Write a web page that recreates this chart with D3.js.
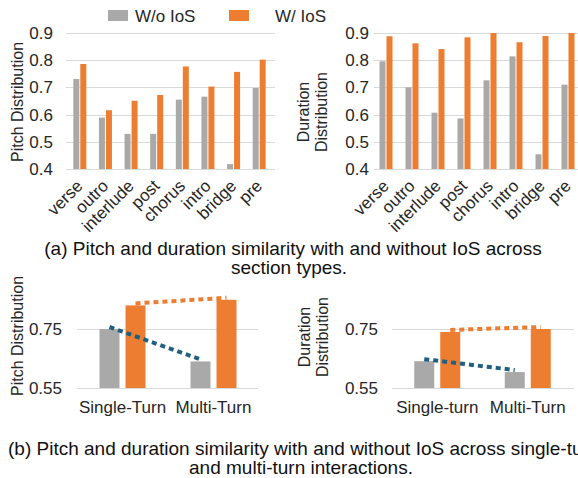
<!DOCTYPE html>
<html>
<head>
<meta charset="utf-8">
<script src="https://cdn.jsdelivr.net/npm/d3@7"></script>
<style>
  body { margin: 0; background: #fff; }
  svg { font-family: "Liberation Sans", Arial, sans-serif; display: block; }
  .grid line { stroke: #d9d9d9; stroke-width: 1; }
  .tick-label { fill: #262626; font-size: 17px; }
  .axis-title { fill: #262626; font-size: 16px; }
  .caption { fill: #111; font-size: 19px; }
</style>
</head>
<body>
<svg id="chart" width="578" height="478"></svg>
<script>
// section types (top row)
const sections = ['verse', 'outro', 'interlude', 'post', 'chorus', 'intro', 'bridge', 'pre'];
const pitchWo = [0.731, 0.589, 0.529, 0.529, 0.655, 0.666, 0.418, 0.698];
const pitchW  = [0.786, 0.616, 0.651, 0.672, 0.777, 0.703, 0.757, 0.802];
const durWo   = [0.796, 0.700, 0.607, 0.586, 0.726, 0.814, 0.454, 0.710];
const durW    = [0.888, 0.862, 0.841, 0.884, 0.900, 0.866, 0.889, 0.900];
const topTicks = [0.4, 0.5, 0.6, 0.7, 0.8, 0.9];

// single vs multi turn (bottom row)
const pitchTurns = ['Single-Turn', 'Multi-Turn'];
const durTurns   = ['Single-turn', 'Multi-Turn'];
const pitchTurnWo = [0.750, 0.640];
const pitchTurnW  = [0.830, 0.849];
const durTurnWo   = [0.641, 0.604];
const durTurnW    = [0.740, 0.750];
const bottomTicks = [0.55, 0.75];

const seriesNames = ['W/o IoS', 'W/ IoS'];

const colors = { wo: '#a9a9a9', w: '#ed7d31', trendWo: '#1f5f80', trendW: '#ed7d31' };

const svg = d3.select('#chart');
svg.append('rect').attr('width', 578).attr('height', 478).attr('fill', '#fff');

// Legend
const legend = svg.append('g');
[[108, 135, colors.wo], [229, 275, colors.w]].forEach((p, i) => {
  legend.append('rect').attr('x', p[0]).attr('y', 10).attr('width', 20).attr('height', 11).attr('fill', p[2]);
  legend.append('text').attr('class', 'tick-label').attr('font-size', '16px')
    .attr('x', p[1]).attr('y', 22).text(seriesNames[i]);
});

function addTitle(g, cfg) {
  const t = g.append('text').attr('class', 'axis-title').attr('text-anchor', 'middle')
    .attr('transform', `translate(${cfg.titleX},${cfg.titleY}) rotate(-90)`);
  cfg.title.forEach((line, i) => {
    t.append('tspan').attr('x', 0)
      .attr('dy', i === 0 ? (cfg.title.length > 1 ? '-0.25em' : '0.35em') : '1.15em')
      .text(line);
  });
}

function drawSections(cfg) {
  const g = svg.append('g');
  const x = d3.scaleBand().domain(sections).range(cfg.xRange);
  const y = d3.scaleLinear().domain([0.4, 0.9]).range([169, 33]);
  const barW = 6, gap = 1;

  g.append('g').attr('class', 'grid').selectAll('line')
    .data(topTicks).join('line')
    .attr('x1', cfg.gridRange[0]).attr('x2', cfg.gridRange[1])
    .attr('y1', d => Math.round(y(d)) + 0.5).attr('y2', d => Math.round(y(d)) + 0.5);

  g.selectAll('.yl').data(topTicks).join('text')
    .attr('class', 'tick-label')
    .attr('x', cfg.tickX).attr('y', d => y(d)).attr('dy', '0.35em')
    .attr('text-anchor', 'end')
    .text(d3.format('.1f'));

  const rows = sections.map((s, i) => ({ s, wo: cfg.wo[i], w: cfg.w[i] }));
  const center = d => x(d.s) + x.bandwidth() / 2;

  g.selectAll('.bwo').data(rows).join('rect')
    .attr('x', d => center(d) - barW - gap / 2).attr('width', barW)
    .attr('y', d => y(d.wo)).attr('height', d => y(0.4) - y(d.wo))
    .attr('fill', colors.wo);
  g.selectAll('.bw').data(rows).join('rect')
    .attr('x', d => center(d) + gap / 2).attr('width', barW)
    .attr('y', d => y(d.w)).attr('height', d => y(0.4) - y(d.w))
    .attr('fill', colors.w);

  g.selectAll('.xl').data(sections).join('text')
    .attr('class', 'tick-label')
    .attr('font-size', '16px')
    .attr('text-anchor', 'end')
    .attr('transform', d => `translate(${x(d) + x.bandwidth() / 2 + 4},${187}) rotate(-45)`)
    .text(d => d);

  addTitle(g, cfg);
}

function drawTurns(cfg) {
  const g = svg.append('g');
  const x = d3.scaleBand().domain(cfg.cats).range(cfg.xRange);
  const y = d3.scaleLinear().domain([0.55, 0.75]).range([388, 329]);
  const barW = 20, gap = 6;

  g.append('g').attr('class', 'grid').selectAll('line')
    .data(bottomTicks).join('line')
    .attr('x1', cfg.gridRange[0]).attr('x2', cfg.gridRange[1])
    .attr('y1', d => Math.round(y(d)) + 0.5).attr('y2', d => Math.round(y(d)) + 0.5);

  g.selectAll('.yl').data(bottomTicks).join('text')
    .attr('class', 'tick-label')
    .attr('x', cfg.tickX).attr('y', d => y(d)).attr('dy', '0.35em')
    .attr('text-anchor', 'end')
    .text(d3.format('.2f'));

  const rows = cfg.cats.map((c, i) => ({ c, wo: cfg.wo[i], w: cfg.w[i] }));
  const center = d => x(d.c) + x.bandwidth() / 2;
  const woX = d => center(d) - gap / 2 - barW / 2;
  const wX = d => center(d) + gap / 2 + barW / 2;

  g.selectAll('.bwo').data(rows).join('rect')
    .attr('x', d => woX(d) - barW / 2).attr('width', barW)
    .attr('y', d => y(d.wo)).attr('height', d => y(0.55) - y(d.wo))
    .attr('fill', colors.wo);
  g.selectAll('.bw').data(rows).join('rect')
    .attr('x', d => wX(d) - barW / 2).attr('width', barW)
    .attr('y', d => y(d.w)).attr('height', d => y(0.55) - y(d.w))
    .attr('fill', colors.w);

  // dotted trend lines between single and multi turn
  const line = d3.line();
  g.append('path')
    .attr('d', line(rows.map(d => [woX(d), y(d.wo) - 2])))
    .attr('fill', 'none').attr('stroke', colors.trendWo)
    .attr('stroke-width', 4).attr('stroke-dasharray', '5,4');
  g.append('path')
    .attr('d', line(rows.map(d => [wX(d), y(d.w) - 2])))
    .attr('fill', 'none').attr('stroke', colors.trendW)
    .attr('stroke-width', 4).attr('stroke-dasharray', '5,4');

  g.selectAll('.xl').data(cfg.cats).join('text')
    .attr('class', 'tick-label')
    .attr('font-size', '16px')
    .attr('text-anchor', 'middle')
    .attr('x', d => x(d) + x.bandwidth() / 2).attr('y', 413)
    .text(d => d);

  addTitle(g, cfg);
}

drawSections({ wo: pitchWo, w: pitchW, xRange: [67, 272], gridRange: [66, 275], tickX: 53,
  title: ['Pitch Distribution'], titleX: 17, titleY: 102 });
drawSections({ wo: durWo, w: durW, xRange: [373, 581], gridRange: [374, 578], tickX: 369,
  title: ['Duration', 'Distribution'], titleX: 313, titleY: 112 });

drawTurns({ cats: pitchTurns, wo: pitchTurnWo, w: pitchTurnW, xRange: [77, 259], gridRange: [77, 258], tickX: 62,
  title: ['Pitch Distribution'], titleX: 17, titleY: 336 });
drawTurns({ cats: durTurns, wo: durTurnWo, w: durTurnW, xRange: [392, 573], gridRange: [392, 574], tickX: 378,
  title: ['Duration', 'Distribution'], titleX: 314, titleY: 337 });

// Captions
svg.append('text').attr('class', 'caption').attr('text-anchor', 'middle')
  .attr('x', 293).attr('y', 255).text('(a) Pitch and duration similarity with and without IoS across');
svg.append('text').attr('class', 'caption').attr('text-anchor', 'middle')
  .attr('x', 289).attr('y', 274).text('section types.');
svg.append('text').attr('class', 'caption').attr('text-anchor', 'start')
  .attr('x', 8).attr('y', 455).text('(b) Pitch and duration similarity with and without IoS across single-turn');
svg.append('text').attr('class', 'caption').attr('text-anchor', 'middle')
  .attr('x', 301).attr('y', 474).text('and multi-turn interactions.');
</script>
</body>
</html>
